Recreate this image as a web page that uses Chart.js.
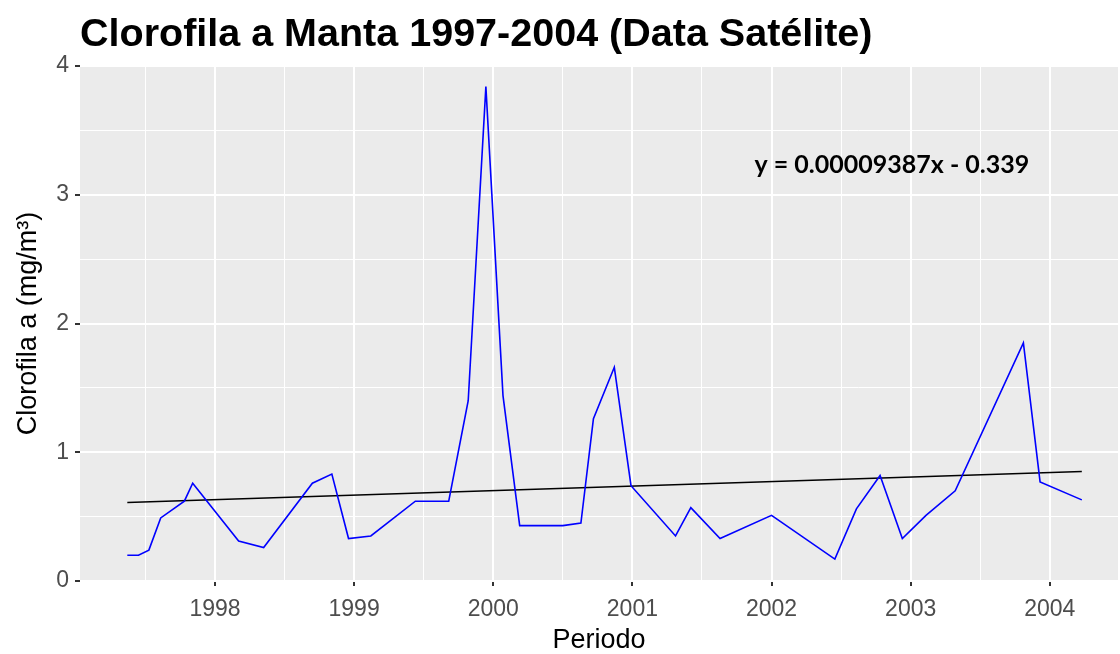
<html lang="es">

<head>
  <meta charset="UTF-8">
  <script src="https://cdn.jsdelivr.net/npm/chart.js@4.4.0/dist/chart.umd.min.js"></script>
  <title>Clorofila a Manta 1997-2004</title>
  <style>
    body { margin: 0; background: #fff; }
  </style>
</head>

<body>
  <canvas id="myChart" width="1120" height="654"></canvas>
  <script>
    // fechas en años decimales
    const periodo = [1997.37, 1997.45, 1997.525, 1997.61, 1997.78, 1997.84, 1998.17, 1998.35, 1998.70, 1998.84,
      1998.96, 1999.12, 1999.44, 1999.68, 1999.82, 1999.947, 2000.07, 2000.19, 2000.50, 2000.63,
      2000.72, 2000.87, 2000.99, 2001.31, 2001.42, 2001.63, 2002.0, 2002.455, 2002.61, 2002.78,
      2002.94, 2003.11, 2003.32, 2003.81, 2003.93, 2004.23];
    const clorofila = [0.20, 0.20, 0.24, 0.49, 0.62, 0.76, 0.31, 0.26, 0.76, 0.83,
      0.33, 0.35, 0.62, 0.62, 1.40, 3.84, 1.44, 0.43, 0.43, 0.45,
      1.26, 1.66, 0.74, 0.35, 0.57, 0.33, 0.51, 0.17, 0.56, 0.82,
      0.33, 0.51, 0.70, 1.85, 0.77, 0.63];
    // recta de tendencia (extremos)
    const tendenciaX = [1997.37, 2004.23];
    const tendenciaY = [0.61, 0.85];
    const yTicks = [0, 1, 2, 3, 4];
    const xTicks = [1998, 1999, 2000, 2001, 2002, 2003, 2004];
    const ecuacion = 'y = 0.00009387x - 0.339';

    const FONT = 'Liberation Sans, Arial, sans-serif';

    const panelBg = {
      id: 'panelBg',
      beforeDraw(chart) {
        const { ctx, chartArea: a } = chart;
        ctx.save();
        ctx.fillStyle = '#EBEBEB';
        ctx.fillRect(a.left, a.top, a.right - a.left, a.bottom - a.top);
        ctx.restore();
      }
    };

    const eqLabel = {
      id: 'eqLabel',
      afterDatasetsDraw(chart) {
        const { ctx, scales } = chart;
        ctx.save();
        ctx.font = 'bold 25px Lato, sans-serif';
        ctx.fillStyle = '#000';
        ctx.textAlign = 'center';
        ctx.textBaseline = 'middle';
        ctx.fillText(ecuacion, scales.x.getPixelForValue(2002.865), scales.y.getPixelForValue(3.23));
        ctx.restore();
      }
    };

    function halfSteps(scale, majors) {
      const out = [];
      majors.forEach(v => {
        out.push({ value: v - 0.5 });
        out.push({ value: v });
      });
      scale.ticks = out.filter(t => t.value >= scale.min && t.value <= scale.max);
    }
    const isMajor = v => Number.isInteger(v);

    const ctx = document.getElementById('myChart').getContext('2d');
    const myChart = new Chart(ctx, {
      type: 'line',
      data: {
        datasets: [
          {
            label: 'Clorofila a',
            data: periodo.map((p, i) => ({ x: p, y: clorofila[i] })),
            borderColor: '#0000FF',
            borderWidth: 1.6,
            pointRadius: 0,
            tension: 0
          },
          {
            label: 'Tendencia',
            data: tendenciaX.map((p, i) => ({ x: p, y: tendenciaY[i] })),
            borderColor: '#000000',
            borderWidth: 1.5,
            pointRadius: 0,
            tension: 0
          }
        ]
      },
      options: {
        responsive: false,
        animation: false,
        layout: { padding: { right: 2 } },
        plugins: {
          legend: { display: false },
          tooltip: { enabled: false },
          title: {
            display: true,
            text: 'Clorofila a Manta 1997-2004 (Data Satélite)',
            align: 'start',
            fullSize: false,
            color: '#000',
            font: { family: FONT, size: 39.5, weight: 'bold', lineHeight: 1.2 },
            padding: { top: 11, bottom: 7.6 }
          }
        },
        scales: {
          x: {
            type: 'linear',
            min: 1997.03,
            max: 2004.49,
            afterBuildTicks: s => halfSteps(s, xTicks),
            afterFit: s => { s.height = 73; },
            border: { display: false },
            grid: {
              color: '#FFFFFF',
              lineWidth: c => isMajor(c.tick.value) ? 2 : 1,
              tickColor: c => isMajor(c.tick.value) ? '#333333' : 'rgba(0,0,0,0)',
              tickLength: 5,
              tickWidth: 2
            },
            ticks: {
              autoSkip: false,
              maxRotation: 0,
              color: '#4D4D4D',
              padding: 10,
              font: { family: FONT, size: 23 },
              callback: v => isMajor(v) ? String(v) : ''
            },
            title: {
              display: true,
              text: 'Periodo',
              color: '#000',
              font: { family: FONT, size: 27, lineHeight: 1 },
              padding: { top: 0, bottom: 0 }
            }
          },
          y: {
            min: 0,
            max: 4,
            afterBuildTicks: s => halfSteps(s, yTicks),
            afterFit: s => { s.width = 80; },
            border: { display: false },
            grid: {
              color: '#FFFFFF',
              lineWidth: c => isMajor(c.tick.value) ? 2 : 1,
              tickColor: c => isMajor(c.tick.value) ? '#333333' : 'rgba(0,0,0,0)',
              tickLength: 5,
              tickWidth: 2
            },
            ticks: {
              color: '#4D4D4D',
              padding: 6,
              font: { family: FONT, size: 23 },
              callback: v => isMajor(v) ? String(v) : ''
            },
            title: {
              display: true,
              text: 'Clorofila a (mg/m³)',
              color: '#000',
              font: { family: FONT, size: 27, lineHeight: 1 },
              padding: { top: 15, bottom: 0 }
            }
          }
        }
      },
      plugins: [panelBg, eqLabel]
    });
  </script>
</body>

</html>
